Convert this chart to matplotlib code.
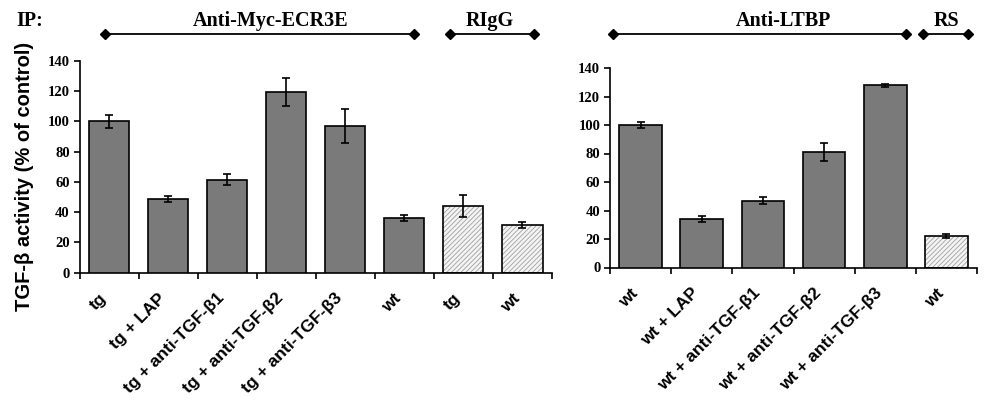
import matplotlib
matplotlib.use("Agg")
import matplotlib.pyplot as plt
from matplotlib.lines import Line2D

# ---------------- data ----------------
left_labels = ["tg", "tg + LAP", "tg + anti-TGF-β1", "tg + anti-TGF-β2",
               "tg + anti-TGF-β3", "wt", "tg", "wt"]
left_values = [100, 48.8, 61.5, 119.5, 97, 36.3, 44, 31.5]
left_errors = [4.5, 1.9, 3.5, 9, 11, 1.9, 7, 2]
left_hatched = [False, False, False, False, False, False, True, True]

right_labels = ["wt", "wt + LAP", "wt + anti-TGF-β1", "wt + anti-TGF-β2",
                "wt + anti-TGF-β3", "wt"]
right_values = [100, 34, 47, 81, 128, 22]
right_errors = [2, 1.8, 2.2, 6.3, 1, 1.2]
right_hatched = [False, False, False, False, False, True]

yticks = [0, 20, 40, 60, 80, 100, 120, 140]
ylabel = "TGF-β activity (% of control)"
header_ip = "IP:"
header_groups_left = ["Anti-Myc-ECR3E", "RIgG"]
header_groups_right = ["Anti-LTBP", "RS"]

# ---------------- style ----------------
W, H = 985, 412
SANS = "Liberation Sans"
SERIF = "Liberation Serif"
SOLID = "#7a7a7a"
HATCH_FILL = "#f4f4f4"
HATCH_COLOR = "#a0a0a0"
plt.rcParams["hatch.linewidth"] = 0.6

fig = plt.figure(figsize=(W / 100, H / 100), dpi=100)


def fx(px):
    return px / W


def fy(py):
    return 1 - py / H


def make_axes(rect_px, labels, values, errors, hatched, width):
    x0, y_bottom, x1, y_top = rect_px
    ax = fig.add_axes([fx(x0), fy(y_bottom), fx(x1) - fx(x0), fy(y_top) - fy(y_bottom)])
    n = len(labels)
    centers = [i + 0.5 for i in range(n)]
    for c, v, e, h in zip(centers, values, errors, hatched):
        if h:
            ax.bar(c, v, width=width, color=HATCH_FILL, edgecolor=HATCH_COLOR,
                   hatch="///////", linewidth=0, zorder=2)
            ax.bar(c, v, width=width, color="none", edgecolor="black",
                   linewidth=1.2, zorder=3)
        else:
            ax.bar(c, v, width=width, color=SOLID, edgecolor="black",
                   linewidth=1.2, zorder=3)
        ax.errorbar(c, v, yerr=e, fmt="none", ecolor="black", elinewidth=1.2,
                    capsize=3.2, capthick=1.2, zorder=4)
    ax.set_xlim(0, n)
    ax.set_ylim(0, 140)
    for s in ("top", "right"):
        ax.spines[s].set_visible(False)
    for s in ("left", "bottom"):
        ax.spines[s].set_linewidth(1.2)
    ax.set_yticks(yticks)
    ax.set_yticklabels([str(t) for t in yticks], fontfamily=SERIF,
                       fontweight="bold", fontsize=10.5)
    ax.tick_params(axis="y", direction="out", length=4, width=1.2, pad=3)
    ax.set_xticks(range(n + 1))
    ax.set_xticklabels([])
    ax.tick_params(axis="x", which="major", direction="out", length=4, width=1.2)
    ax.set_xticks(centers, minor=True)
    ax.set_xticklabels(labels, minor=True, rotation=45, ha="right", va="top",
                       fontfamily=SANS, fontweight="bold", fontsize=12.5)
    ax.tick_params(axis="x", which="minor", length=0, pad=13)
    return ax


axL = make_axes((79.5, 272.5, 552, 61), left_labels, left_values, left_errors,
                left_hatched, 0.68)
axR = make_axes((610, 267.5, 977, 68), right_labels, right_values, right_errors,
                right_hatched, 0.70)

# y label
fig.text(fx(25), fy(176), ylabel, rotation=90, ha="center", va="center",
         fontfamily=SANS, fontweight="bold", fontsize=14.5)

# headers
fig.text(fx(16), fy(26), header_ip, ha="left", va="baseline",
         fontfamily=SERIF, fontweight="bold", fontsize=14.5)

brackets = [
    (header_groups_left[0], 105, 414, 33.5, 271),
    (header_groups_left[1], 450, 534, 33.5, 490),
    (header_groups_right[0], 613, 906, 34, 783),
    (header_groups_right[1], 923, 968, 34, 947),
]
for text, xa, xb, yl, xt in brackets:
    fig.add_artist(Line2D([fx(xa), fx(xb)], [fy(yl), fy(yl)], transform=fig.transFigure,
                          color="black", linewidth=1.3, marker="D", markersize=5,
                          markerfacecolor="black", markeredgecolor="black"))
    fig.text(fx(xt), fy(26), text, ha="center", va="baseline",
             fontfamily=SERIF, fontweight="bold", fontsize=14.5)

fig.savefig("out.png", dpi=100)
